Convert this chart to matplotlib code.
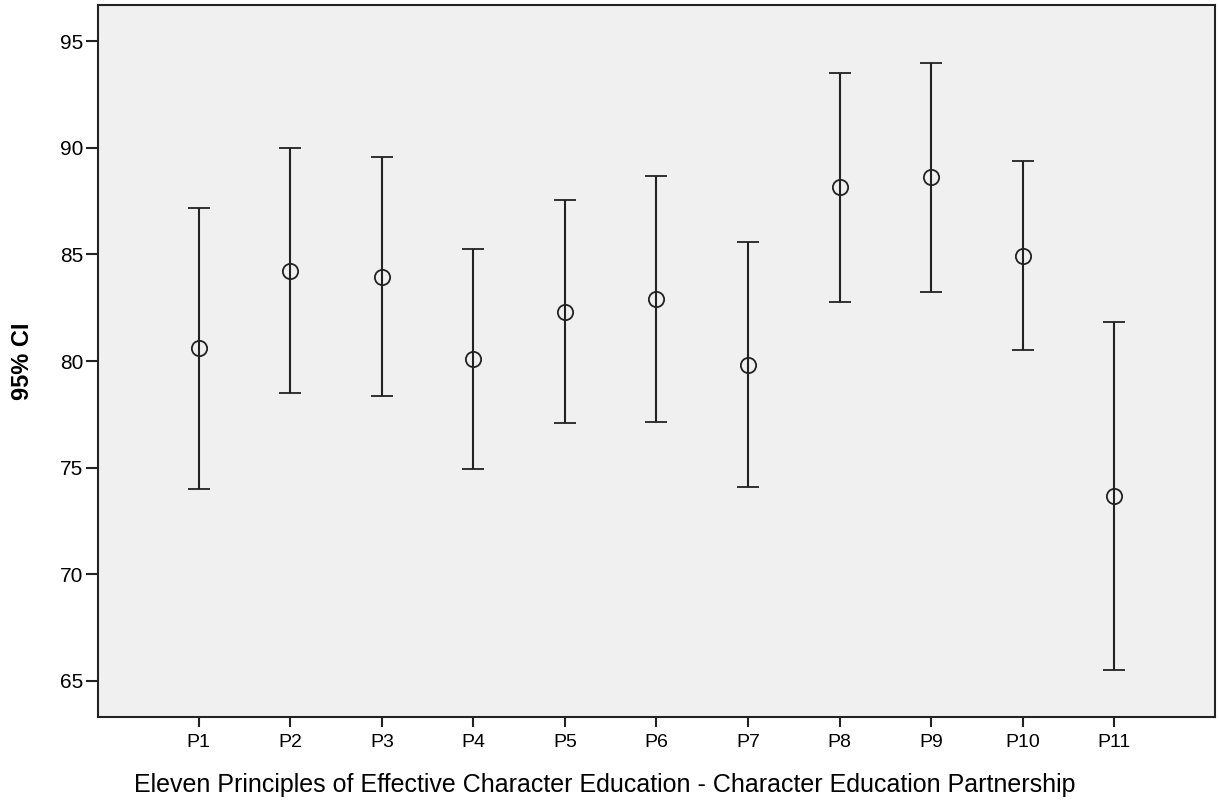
import matplotlib.pyplot as plt

plt.rcParams['font.family'] = ['Liberation Sans', 'DejaVu Sans']

# data (mean and 95% CI bounds)
labels = ['P1', 'P2', 'P3', 'P4', 'P5', 'P6', 'P7', 'P8', 'P9', 'P10', 'P11']
means = [80.59, 84.22, 83.94, 80.09, 82.31, 82.89, 79.81, 88.17, 88.61, 84.93, 73.67]
upper = [87.17, 89.98, 89.56, 85.26, 87.56, 88.67, 85.56, 93.51, 93.98, 89.36, 81.84]
lower = [74.00, 78.50, 78.34, 74.95, 77.08, 77.14, 74.09, 82.78, 83.22, 80.51, 65.50]

x = list(range(1, len(labels) + 1))
err_lo = [m - l for m, l in zip(means, lower)]
err_hi = [u - m for u, m in zip(upper, means)]

fig = plt.figure(figsize=(12.19, 8.07), dpi=100)
ax = fig.add_axes([0.0804, 0.1115, 0.9163, 0.8823])
ax.set_facecolor('#f0f0f0')

ax.errorbar(x, means, yerr=[err_lo, err_hi], fmt='o', color='#222222',
            ecolor='#222222', elinewidth=1.5, capsize=8, capthick=1.5,
            markersize=11, markerfacecolor='none', markeredgewidth=1.3)

ax.set_xlim(1 - 1.1, 11 + 1.1)
ax.set_ylim(63.3, 96.7)
ax.set_xticks(x)
ax.set_xticklabels(labels)
ax.set_yticks([65, 70, 75, 80, 85, 90, 95])

for s in ax.spines.values():
    s.set_linewidth(1.5)
    s.set_color('#222222')
ax.tick_params(axis='y', direction='out', length=9, width=1.5,
               color='#222222', labelsize=15, pad=1.5)
ax.tick_params(axis='x', direction='out', length=7, width=1.5,
               color='#222222', labelsize=14, pad=5)

ax.set_xlabel('Eleven Principles of Effective Character Education - Character Education Partnership',
              fontsize=18)
ax.xaxis.set_label_coords(0.454, -0.0787)
ax.set_ylabel('95% CI', fontsize=17, fontweight='bold')
ax.yaxis.set_label_coords(-0.057, 0.5)

fig.savefig('out.png', dpi=100)
